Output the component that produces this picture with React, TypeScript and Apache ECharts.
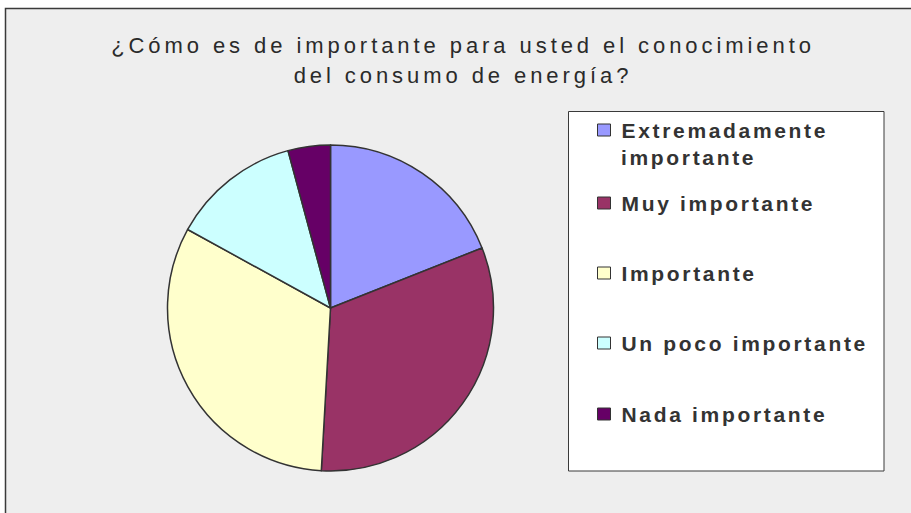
import React, { useEffect, useRef } from "react";
import * as echarts from "echarts";

const categories = [
  "Extremadamente importante",
  "Muy importante",
  "Importante",
  "Un poco importante",
  "Nada importante",
];
const values = [19, 31.9, 32.1, 12.8, 4.2];
const colors = ["#9999FF", "#993366", "#FFFFCC", "#CCFFFF", "#660066"];
const titleLines = ["¿Cómo es de importante para usted el conocimiento", "del consumo de energía?"];
const firstLegendLines = ["Extremadamente", "importante"];

const FONT = "'Liberation Sans', Arial, sans-serif";
const TITLE_SIZE = 22;
const LEGEND_SIZE = 21;
const markerY = [130, 203, 273, 343, 414];

export default function App() {
  const ref = useRef<HTMLDivElement>(null);
  const styleRef = useRef<HTMLStyleElement>(null);

  useEffect(() => {
    document.body.style.margin = "0";
    const cv = document.createElement("canvas");
    const ctx = cv.getContext("2d")!;
    ctx.font = `${TITLE_SIZE}px ${FONT}`;
    const w1 = ctx.measureText(titleLines[0]).width;
    const n1 = Array.from(titleLines[0]).length;
    const lsTitle = (700 - w1) / (n1 - 1);
    ctx.font = `bold ${LEGEND_SIZE}px ${FONT}`;
    const w2 = ctx.measureText(firstLegendLines[0]).width;
    const n2 = Array.from(firstLegendLines[0]).length;
    const lsLegend = (204 - w2) / (n2 - 1);
    if (styleRef.current) {
      styleRef.current.textContent = `#chart-root svg text{letter-spacing:${lsTitle.toFixed(2)}px}
#chart-root svg text[style*="bold"]{letter-spacing:${lsLegend.toFixed(2)}px}`;
    }

    const chart = echarts.init(ref.current!, null, { renderer: "svg" });
    const legends = categories.map((name, i) => ({
      data: [name],
      orient: "vertical",
      left: 597,
      top: markerY[i] - 15,
      padding: 0,
      itemWidth: 13,
      itemHeight: 12,
      icon: "rect",
      selectedMode: false,
      itemStyle: { borderColor: "#333", borderWidth: 1 },
      formatter: i === 0 ? firstLegendLines[0] : "{name}",
      textStyle: {
        fontFamily: FONT,
        fontSize: LEGEND_SIZE,
        fontWeight: "bold",
        color: "#333",
        lineHeight: 24,
        padding: [0, 0, 6, 6],
      },
    }));
    chart.setOption({
      animation: false,
      title: {
        text: titleLines.join("\n"),
        left: 463,
        top: 30,
        padding: 0,
        textAlign: "center",
        textStyle: {
          fontFamily: FONT,
          fontSize: TITLE_SIZE,
          fontWeight: "normal",
          color: "#2a2a2a",
          lineHeight: 30,
        },
      },
      graphic: [
        {
          type: "rect",
          z: -10,
          silent: true,
          shape: { x: 5.5, y: 8.5, width: 1000, height: 1000 },
          style: { fill: "#EEEEEE", stroke: "#3a3a3a", lineWidth: 1.5 },
        },
        {
          type: "rect",
          z: -5,
          silent: true,
          shape: { x: 568.5, y: 111.5, width: 315.5, height: 359.5 },
          style: { fill: "#FFFFFF", stroke: "#3a3a3a", lineWidth: 1 },
        },
        {
          type: "text",
          silent: true,
          style: {
            text: firstLegendLines[1],
            x: 621,
            y: markerY[0] - 3 + 30,
            verticalAlign: "middle",
            font: `bold ${LEGEND_SIZE}px ${FONT}`,
            fill: "#333",
          },
        },
      ],
      legend: legends,
      series: [
        {
          type: "pie",
          center: [330.5, 308],
          radius: 163,
          startAngle: 90,
          clockwise: true,
          silent: true,
          label: { show: false },
          labelLine: { show: false },
          emphasis: { disabled: true },
          itemStyle: { borderColor: "#333", borderWidth: 1.5 },
          data: categories.map((name, i) => ({
            name,
            value: values[i],
            itemStyle: { color: colors[i] },
          })),
        },
      ],
    });
    return () => chart.dispose();
  }, []);

  return (
    <div>
      <style ref={styleRef}></style>
      <div id="chart-root" ref={ref} style={{ width: 911, height: 513 }} />
    </div>
  );
}
